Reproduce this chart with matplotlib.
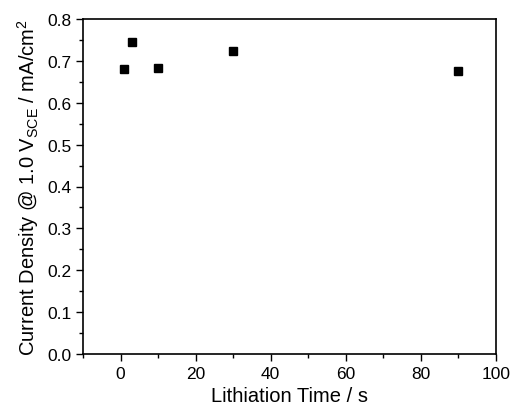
import matplotlib
matplotlib.use('Agg')
from matplotlib import pyplot as plt
from matplotlib.ticker import MultipleLocator

plt.rcParams['font.family'] = ['Liberation Sans', 'DejaVu Sans']

lithiation_time = [1, 3, 10, 30, 90]
current_density = [0.681, 0.746, 0.684, 0.724, 0.677]

fig = plt.figure(figsize=(5.12, 4.14), dpi=100)
ax = fig.add_axes([83 / 512, 59 / 414, 413 / 512, 335 / 414])

ax.plot(lithiation_time, current_density, 's', color='black', markersize=5.5)

ax.set_xlim(-10, 100)
ax.set_ylim(0, 0.8)
ax.xaxis.set_major_locator(MultipleLocator(20))
ax.xaxis.set_minor_locator(MultipleLocator(10))
ax.yaxis.set_major_locator(MultipleLocator(0.1))
ax.yaxis.set_minor_locator(MultipleLocator(0.05))
ax.yaxis.set_major_formatter(plt.FormatStrFormatter('%.1f'))

ax.tick_params(which='both', direction='out', top=False, right=False, labelsize=12.5)
ax.tick_params(which='major', length=5, width=1)
ax.tick_params(which='minor', length=3, width=1)
for s in ax.spines.values():
    s.set_linewidth(1.2)

ax.set_xlabel('Lithiation Time / s', fontsize=14.5)
ax.set_ylabel(r'Current Density @ 1.0 V$_{\mathregular{SCE}}$ / mA/cm$^{\mathregular{2}}$', fontsize=14.5)

fig.savefig('out.png', dpi=100)
